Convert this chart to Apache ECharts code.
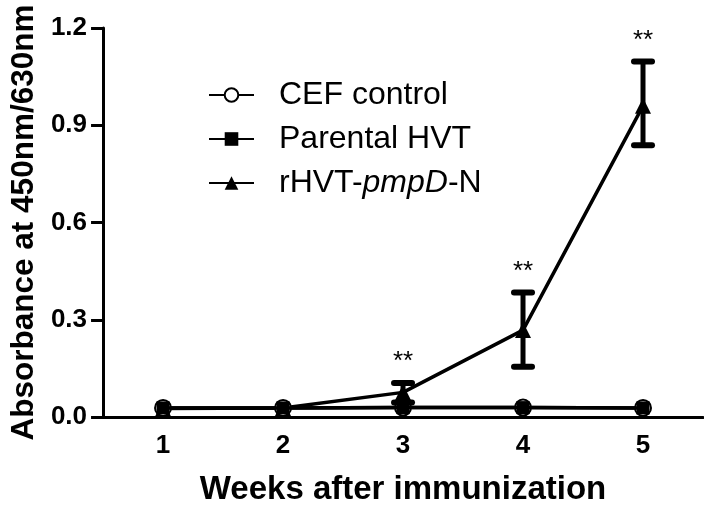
<!DOCTYPE html>
<html><head><meta charset="utf-8">
<script src="https://cdn.jsdelivr.net/npm/echarts@6/dist/echarts.min.js"></script>
<style>html,body{margin:0;padding:0;background:#fff}#c{width:704px;height:511px}</style>
</head><body><div id="c"></div>
<script>
var weeks = ['1','2','3','4','5'];
var cefControl = [0.028, 0.028, 0.029, 0.029, 0.028];
var parentalHVT = [0.028, 0.028, 0.029, 0.029, 0.028];
var rHVT = [0.026, 0.028, 0.076, 0.268, 0.960];
var rHVTLow = [null, null, 0.045, 0.155, 0.838];
var rHVTHigh = [null, null, 0.105, 0.384, 1.097];
var signif = ['', '', '**', '**', '**'];

var FONT = '"Liberation Sans", Arial, sans-serif';
var chart = echarts.init(document.getElementById('c'));
var errData = weeks.map(function(w, i){ return [i, rHVTLow[i], rHVTHigh[i], signif[i]]; })
  .filter(function(d){ return d[1] != null; });

chart.setOption({
  animation: false,
  grid: {left: 100, right: 1, top: 28, bottom: 89},
  legend: {
    orient: 'vertical', left: 203, top: 74, itemGap: 12, itemWidth: 45, itemHeight: 17,
    data: ['CEF control', 'Parental HVT', 'rHVT-pmpD-N'],
    formatter: function(n){ return n === 'rHVT-pmpD-N' ? 'rHVT-{i|pmpD}-N' : n; },
    textStyle: {fontFamily: FONT, fontSize: 32, color: '#000', padding: [0, 0, 0, 20],
      rich: {i: {fontFamily: FONT, fontSize: 32, fontStyle: 'italic', color: '#000'}}}
  },
  xAxis: {
    type: 'category', data: weeks, boundaryGap: true,
    name: 'Weeks after immunization', nameLocation: 'middle', nameGap: 56,
    nameTextStyle: {fontFamily: FONT, fontSize: 33, fontWeight: 'bold', color: '#000'},
    axisLine: {lineStyle: {color: '#000', width: 3}},
    axisTick: {alignWithLabel: true, length: 10, lineStyle: {color: '#000', width: 3}},
    axisLabel: {fontFamily: FONT, fontSize: 26, fontWeight: 'bold', color: '#000', margin: 16}
  },
  yAxis: {
    type: 'value', min: 0, max: 1.2, interval: 0.3,
    name: 'Absorbance at 450nm/630nm', nameLocation: 'middle', nameGap: 62,
    nameTextStyle: {fontFamily: FONT, fontSize: 31.5, fontWeight: 'bold', color: '#000'},
    axisLine: {show: true, lineStyle: {color: '#000', width: 3}},
    axisTick: {show: true, length: 12, lineStyle: {color: '#000', width: 3}},
    splitLine: {show: false},
    axisLabel: {fontFamily: FONT, fontSize: 26, fontWeight: 'bold', color: '#000', margin: 16,
      formatter: function(v){ return v.toFixed(1); }}
  },
  series: [
    {name: 'CEF control', type: 'line', data: cefControl, symbol: 'emptyCircle', symbolSize: 16,
      itemStyle: {color: '#000', borderColor: '#000', borderWidth: 3}, lineStyle: {color: '#000', width: 3.5}, z: 3},
    {name: 'Parental HVT', type: 'line', data: parentalHVT, symbol: 'rect', symbolSize: 13,
      itemStyle: {color: '#000'}, lineStyle: {color: '#000', width: 3.5}, z: 4},
    {name: 'rHVT-pmpD-N', type: 'line', data: rHVT, symbol: 'triangle', symbolSize: 16,
      itemStyle: {color: '#000'}, lineStyle: {color: '#000', width: 3.5}, z: 2},
    {name: 'err', type: 'custom', data: errData, z: 5,
      renderItem: function(params, api){
        var x = api.value(0);
        var lo = api.coord([x, api.value(1)]);
        var hi = api.coord([x, api.value(2)]);
        var hw = 9;
        var cap = {stroke: '#000', lineWidth: 6, lineCap: 'round'};
        return {type: 'group', children: [
          {type: 'line', shape: {x1: lo[0], y1: lo[1], x2: hi[0], y2: hi[1]}, style: {stroke: '#000', lineWidth: 5}},
          {type: 'line', shape: {x1: lo[0]-hw, y1: lo[1], x2: lo[0]+hw, y2: lo[1]}, style: cap},
          {type: 'line', shape: {x1: hi[0]-hw, y1: hi[1], x2: hi[0]+hw, y2: hi[1]}, style: cap},
          {type: 'text', x: hi[0], y: hi[1] - 8, style: {text: api.value(3), fontFamily: FONT, fontSize: 26, fill: '#000', textAlign: 'center', textVerticalAlign: 'bottom'}}
        ]};
      }
    }
  ]
});
</script></body></html>
